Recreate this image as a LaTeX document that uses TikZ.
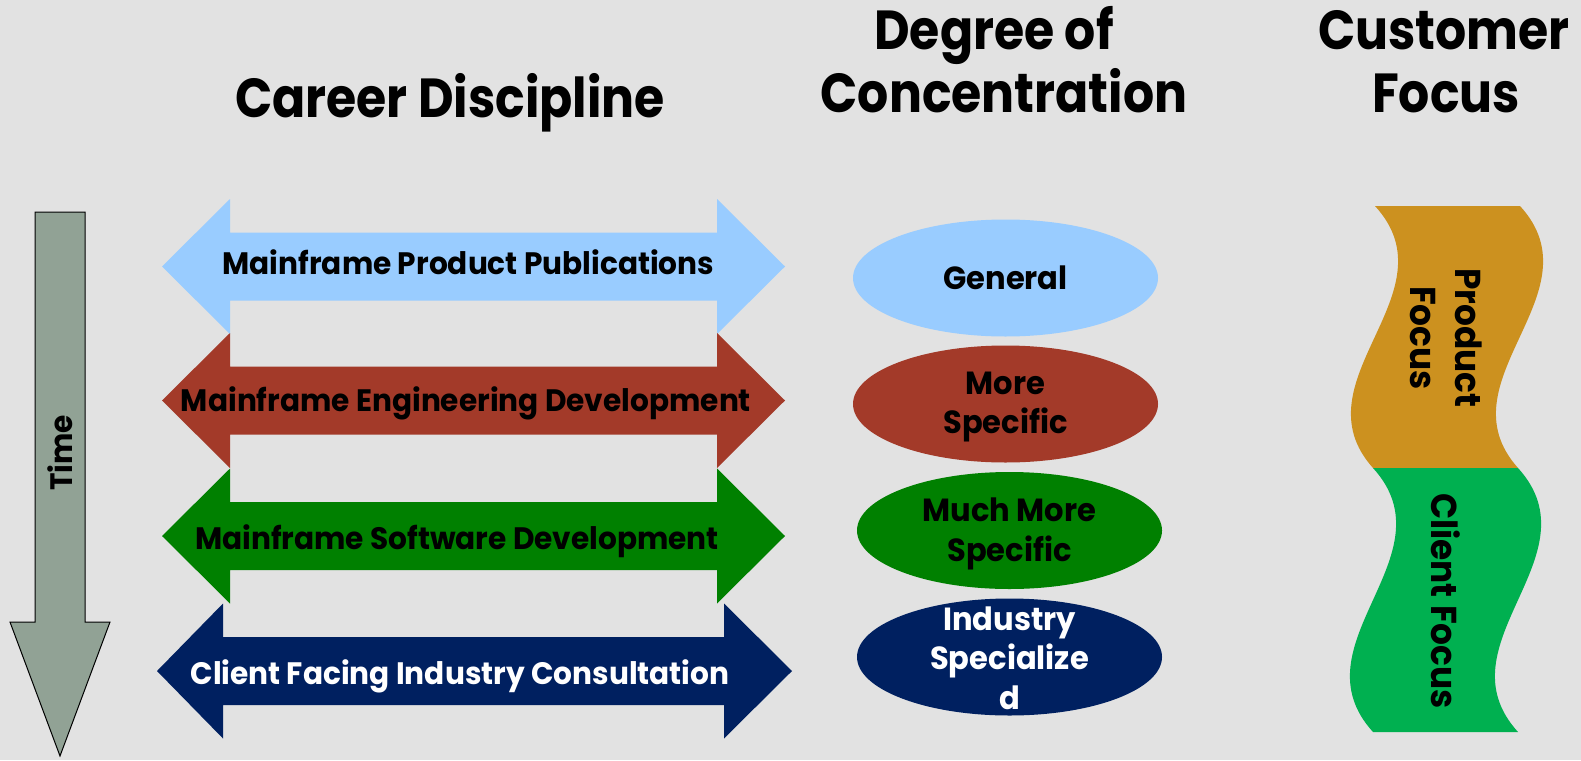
\documentclass[tikz,border=0pt]{standalone}
\usepackage{fontspec}
\setmainfont{Poppins}
\newfontfamily\tfont{Poppins}[FakeStretch=0.89]
\newfontfamily\bfont{Poppins}[FakeStretch=0.955]
\usetikzlibrary{shapes.geometric}
\definecolor{bg}{HTML}{E2E2E2}
\definecolor{lblue}{HTML}{99CCFF}
\definecolor{rbrown}{HTML}{A33A29}
\definecolor{dgreen}{HTML}{008000}
\definecolor{navy}{HTML}{002060}
\definecolor{timec}{HTML}{91A295}
\definecolor{prodc}{HTML}{CC911F}
\definecolor{clientc}{HTML}{00B050}
\newcommand\dblarrow[6]{%
  \fill[#6] (#2,#1) -- (#3,{#1-67.5}) -- (#3,{#1-34}) -- (#4,{#1-34}) -- (#4,{#1-67.5}) -- (#5,#1)
    -- (#4,{#1+67.5}) -- (#4,{#1+34}) -- (#3,{#1+34}) -- (#3,{#1+67.5}) -- cycle;}
\begin{document}
\begin{tikzpicture}[x=1pt,y=-1pt,
  body/.style={font=\bfont\bfseries\fontsize{31}{38}\selectfont, inner sep=0pt, align=center},
  side/.style={font=\bfont\bfseries\fontsize{36}{45}\selectfont, inner sep=0pt, align=center},
  title/.style={font=\tfont\bfseries\fontsize{55}{62}\selectfont, inner sep=0pt, anchor=base},
  ell/.style={ellipse, minimum width=305pt, minimum height=117pt, inner sep=0pt},
  etext/.style={font=\bfont\bfseries\fontsize{32}{39.5}\selectfont, inner sep=0pt, align=center}]
\fill[bg] (0,0) rectangle (1581,760);
\useasboundingbox (0,0) rectangle (1581,760);

% titles
\node[title] (t1) at (450,117) {Career Discipline};
\node[title] (t2a) at (994,50) {Degree of};
\node[title] (t2b) at (1004,112) {Concentration};
\node[title] (t3a) at (1444,50) {Customer};
\node[title] (t3b) at (1446,112) {Focus};

% time arrow
\draw[fill=timec, line width=1pt, line join=miter] (35,212) -- (85,212) -- (85,622) -- (110,622)
  -- (60,756) -- (10,622) -- (35,622) -- cycle;
\node[body, rotate=90] (time) at (60,453) {Time};

% double arrows
\dblarrow{266.5}{162}{230}{717}{785}{lblue}
\dblarrow{400.5}{162}{230}{717}{785}{rbrown}
\dblarrow{536}{162}{230}{717}{785}{dgreen}
\dblarrow{671}{157}{223}{724}{792}{navy}
\node[body, anchor=base] (a1) at (468.5,274) {Mainframe Product Publications};
\node[body, anchor=base] (a2) at (466,411) {Mainframe Engineering Development};
\node[body, anchor=base] (a3) at (457,549) {Mainframe Software Development};
\node[body, anchor=base, text=white] (a4) at (460,684) {Client Facing Industry Consultation};

% ellipses
\node[ell, fill=lblue] (e1) at (1005.5,278) {};
\node[ell, fill=rbrown] (e2) at (1005.5,404) {};
\node[ell, fill=dgreen] (e3) at (1009.5,530.5) {};
\node[ell, fill=navy] (e4) at (1009.5,657) {};
\node[etext] (e1t) at (1005.5,278) {General};
\node[etext] (e2t) at (1005.5,407) {More\\Specific};
\node[etext] (e3t) at (1009.5,534) {Much More\\Specific};
\node[etext, text=white] (e4t) at (1009.5,658) {Industry\\Specialize\\d};

% wave shapes
\fill[prodc] (1375,206) -- (1520,206) .. controls (1600,293.3) and (1440,380.7) .. (1518,468)
  -- (1373,468) .. controls (1295,380.7) and (1455,293.3) .. (1375,206) -- cycle;
\fill[clientc] (1373,468) -- (1518,468) .. controls (1598,556) and (1438,644) .. (1518,732)
  -- (1373,732) .. controls (1293,644) and (1453,556) .. (1373,468) -- cycle;
\node[side, rotate=-90] (pf) at (1446,338) {Product\\Focus};
\node[side, rotate=-90] (cf) at (1446,601) {Client Focus};
\end{tikzpicture}
\end{document}
